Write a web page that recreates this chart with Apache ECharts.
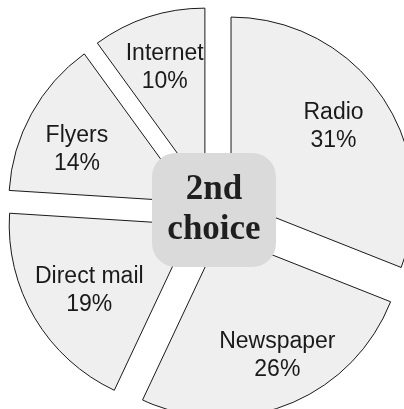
<!DOCTYPE html>
<html>
<head>
<meta charset="utf-8">
<script src="https://cdn.jsdelivr.net/npm/echarts@6/dist/echarts.min.js"></script>
<style>
  html, body { margin: 0; padding: 0; background: #ffffff; }
  #chart { width: 404px; height: 409px; }
</style>
</head>
<body>
<div id="chart"></div>
<script>
// Advertising channels ranked as second choice (share in percent)
const categories = ['Radio', 'Newspaper', 'Direct mail', 'Flyers', 'Internet'];
const shares = [31, 26, 19, 14, 10];
const centerTitle = ['2nd', 'choice'];

const sliceFill = '#efefef';
const sliceBorder = '#1a1a1a';
const pieCenter = [212, 213];
const outerRadius = 183;
const explode = 23;

// small hand nudges [dx, dy] so each label sits nicely inside its wedge
const labelNudge = {
  'Radio': [-5, 0],
  'Newspaper': [9, 0],
  'Direct mail': [9, 0],
  'Flyers': [-1, 10],
  'Internet': [0, 0]
};

// horizontal nudge: pad one side of the centred label more than the other
function nudgePadding(n) {
  const dx = n[0];
  return [0, Math.max(-2 * dx, 0), 0, Math.max(2 * dx, 0)];
}

// vertical nudge: an invisible spacer line above the label text
function labelText(p) {
  const dy = labelNudge[p.name][1];
  const body = '{t|' + p.name + '}\n{t|' + p.value + '%}';
  return dy > 0 ? '{gap| }\n' + body : body;
}

const pieData = categories.map((name, i) => ({ name, value: shares[i], selected: true }));

const chart = echarts.init(document.getElementById('chart'), null, { renderer: 'canvas' });

const labelFont = {
  fontFamily: 'Liberation Sans, Arial, sans-serif',
  fontSize: 23,
  lineHeight: 28,
  color: '#1a1a1a'
};

chart.setOption({
  animation: false,
  backgroundColor: '#ffffff',
  series: [
    {
      // exploded wedges
      type: 'pie',
      center: pieCenter,
      radius: [0, outerRadius],
      startAngle: 90,
      clockwise: true,
      selectedMode: 'multiple',
      selectedOffset: explode,
      silent: true,
      z: 2,
      itemStyle: { color: sliceFill, borderColor: sliceBorder, borderWidth: 1 },
      select: { itemStyle: { color: sliceFill, borderColor: sliceBorder, borderWidth: 1 } },
      label: { show: false },
      labelLine: { show: false },
      data: pieData
    },
    {
      // transparent ring carrying the in-slice labels
      type: 'pie',
      center: pieCenter,
      radius: [71, outerRadius],
      startAngle: 90,
      clockwise: true,
      selectedMode: 'multiple',
      selectedOffset: explode,
      silent: true,
      z: 3,
      itemStyle: { color: 'rgba(0,0,0,0)', borderWidth: 0 },
      select: { itemStyle: { color: 'rgba(0,0,0,0)', borderWidth: 0 } },
      label: Object.assign({
        show: true,
        position: 'inside',
        formatter: labelText,
        align: 'center',
        rich: {
          t: Object.assign({ align: 'center' }, labelFont),
          gap: { fontSize: 1, lineHeight: 2 * labelNudge['Flyers'][1] }
        }
      }, labelFont),
      labelLine: { show: false },
      data: pieData.map(d => Object.assign({}, d, {
        label: { padding: nudgePadding(labelNudge[d.name]) },
        select: { label: { padding: nudgePadding(labelNudge[d.name]) } }
      }))
    }
  ],
  graphic: [
    {
      type: 'rect',
      z: 100,
      shape: { x: 152, y: 153, width: 124, height: 114, r: 24 },
      style: { fill: '#dadadb' }
    },
    {
      type: 'text',
      z: 101,
      x: 214,
      y: 210,
      style: {
        text: centerTitle.join('\n'),
        font: 'bold 35px "Liberation Serif", "Times New Roman", serif',
        lineHeight: 40,
        fill: '#1f1f1f',
        align: 'center',
        verticalAlign: 'middle'
      }
    }
  ]
});
</script>
</body>
</html>
